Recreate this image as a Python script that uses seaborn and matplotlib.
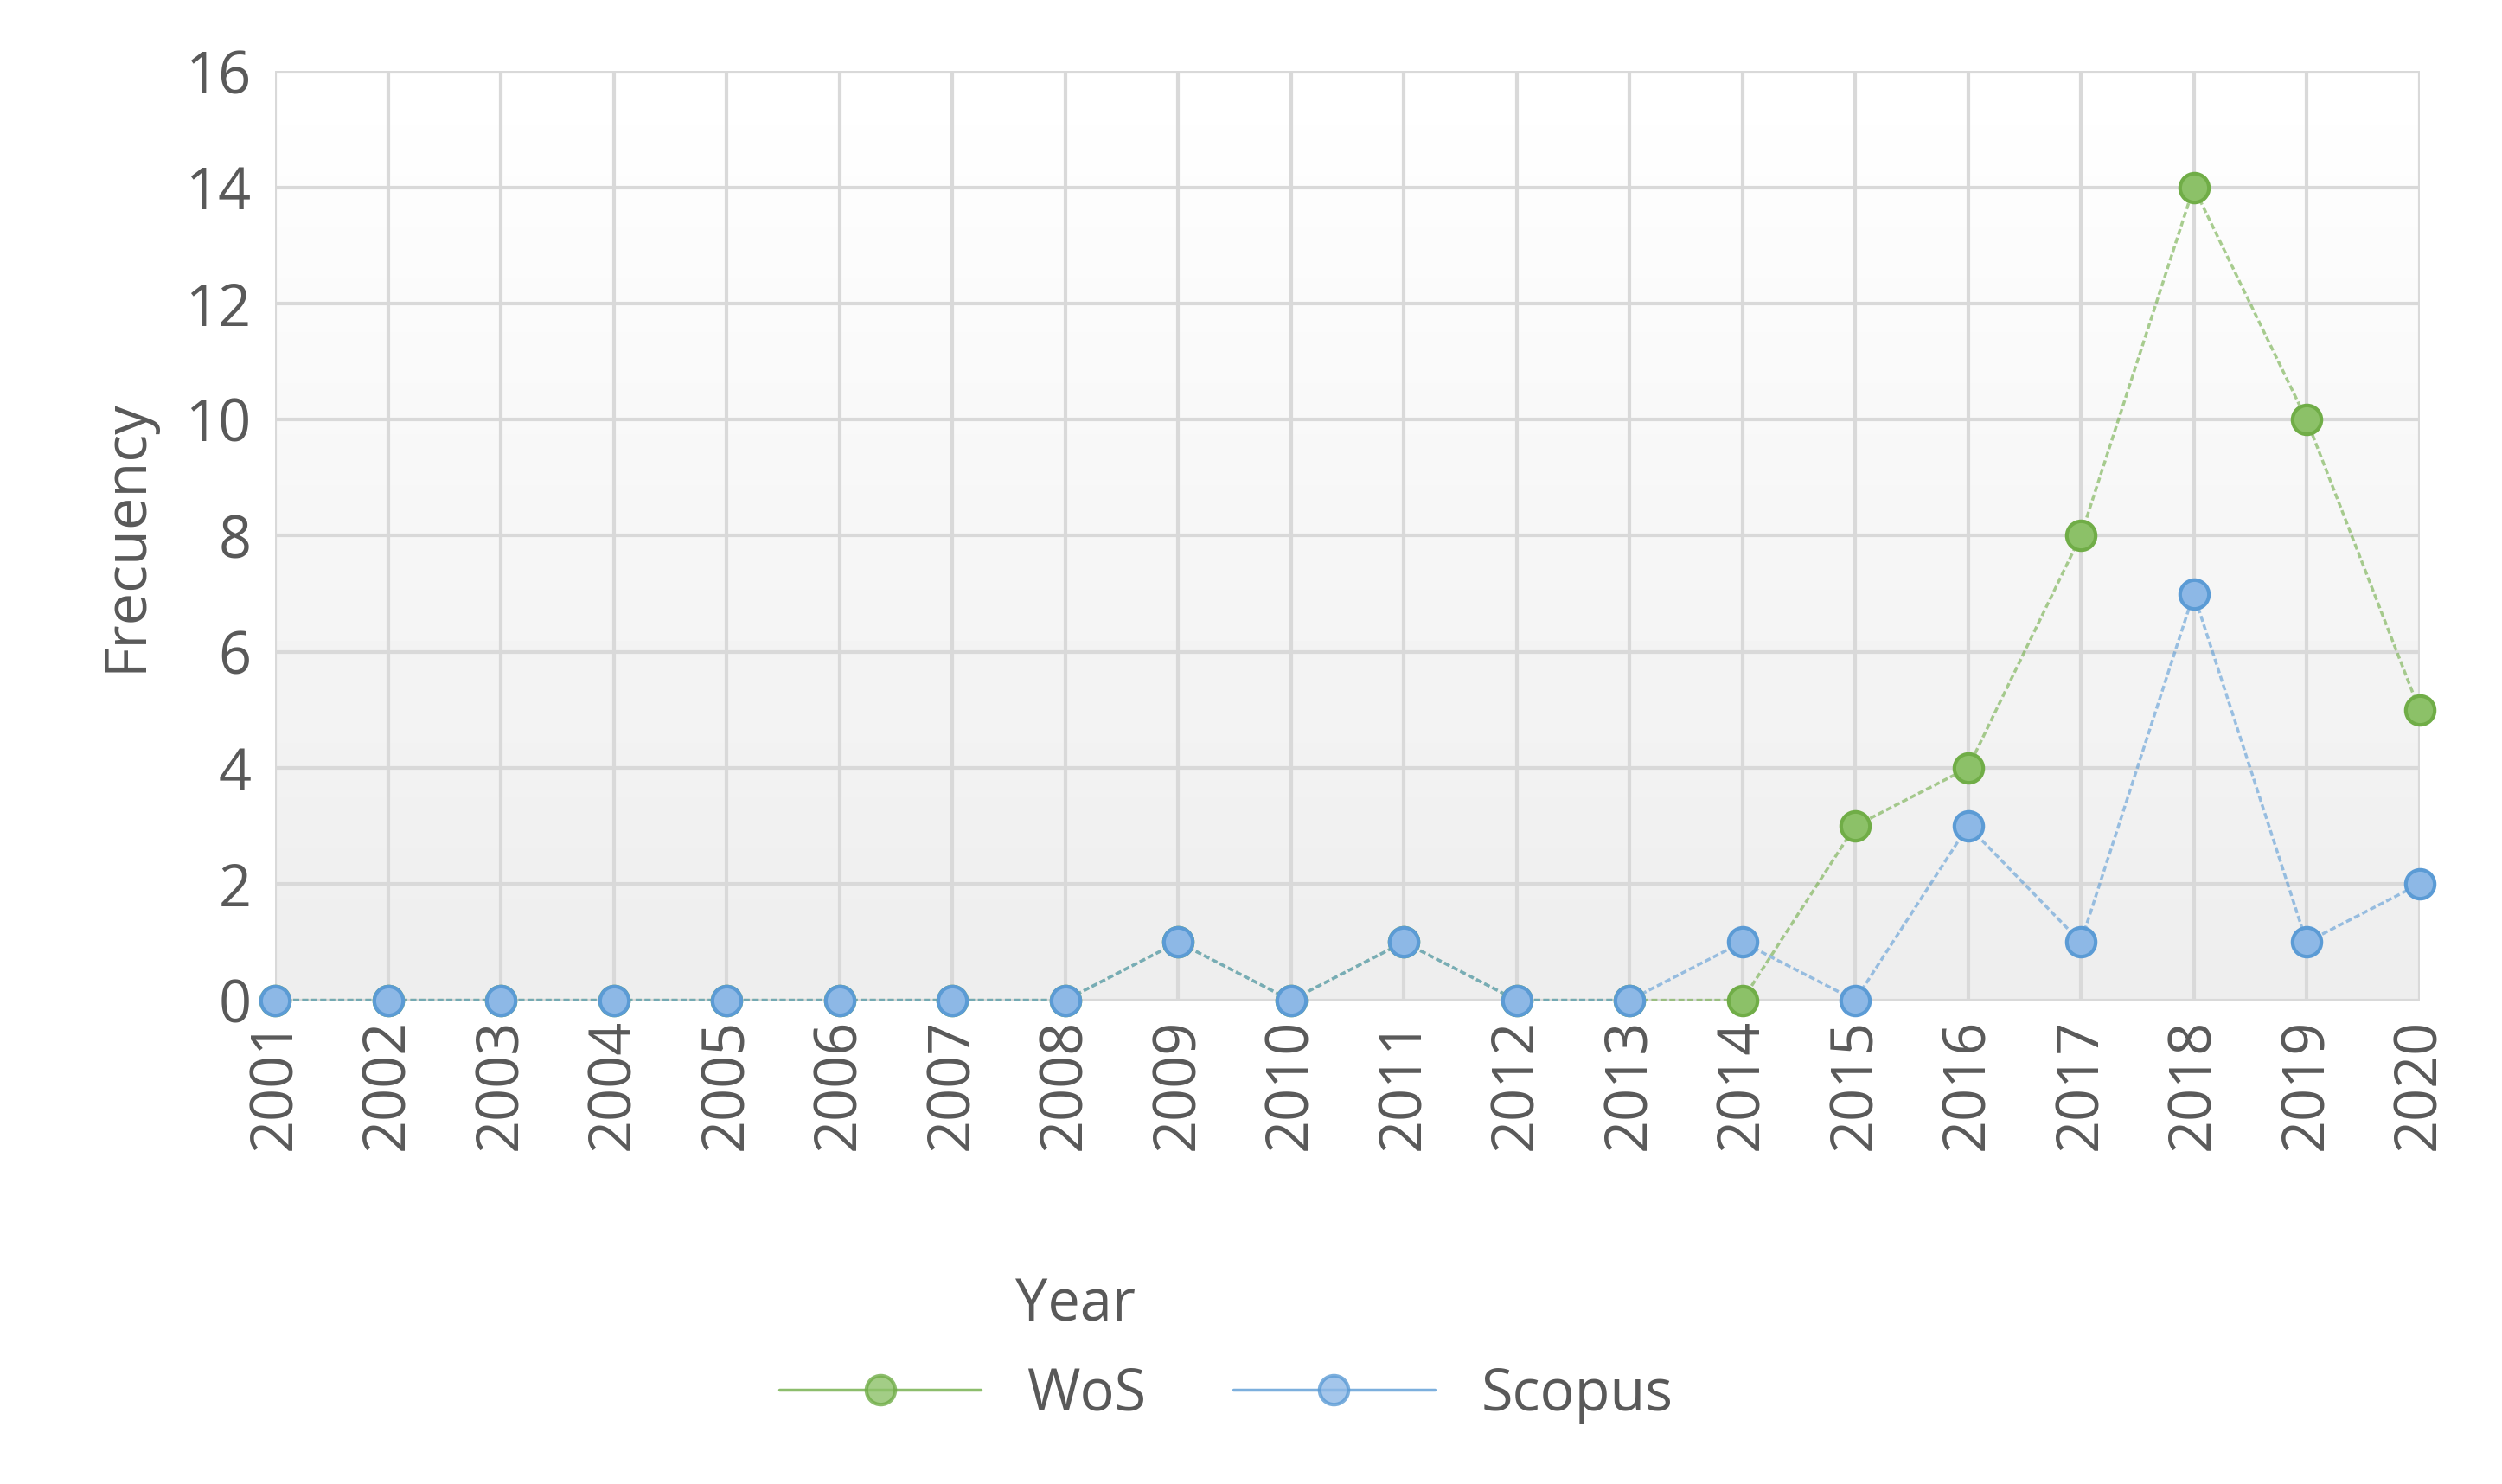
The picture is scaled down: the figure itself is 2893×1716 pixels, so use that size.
import numpy as np
import pandas as pd
import matplotlib
matplotlib.use("Agg")
import matplotlib.pyplot as plt
import seaborn as sns
from matplotlib.lines import Line2D

years = list(range(2001, 2021))
wos = [0,0,0,0,0,0,0,0,1,0,1,0,0,0,3,4,8,14,10,5]
scopus = [0,0,0,0,0,0,0,0,1,0,1,0,0,1,0,3,1,7,1,2]

df = pd.DataFrame({"Year": years * 2, "Frecuency": wos + scopus,
                   "Source": ["WoS"] * 20 + ["Scopus"] * 20})

sns.set_style("white")
plt.rcParams['font.family'] = ['Open Sans', 'DejaVu Sans']
fig = plt.figure(figsize=(28.93, 17.16), dpi=100)
ax = fig.add_axes([0.11, 0.326, 0.857, 0.626])

grad = np.linspace(0.93, 1.0, 256).reshape(-1, 1)
ax.imshow(grad, cmap="gray", vmin=0, vmax=1, aspect="auto",
          extent=[2001, 2020, 0, 16], origin="lower", zorder=0)

pal = {"WoS": "#70AD47", "Scopus": "#5B9BD5"}
fill = {"WoS": "#8CC168", "Scopus": "#8DB8E6"}
for src in ["WoS", "Scopus"]:
    sub = df[df.Source == src]
    sns.lineplot(data=sub, x="Year", y="Frecuency", ax=ax, color=pal[src],
                 alpha=0.6, linewidth=2.5, linestyle=(0, (2, 1)), zorder=3)
    ax.plot(sub.Year, sub.Frecuency, "o", ms=24, mfc=fill[src], mec=pal[src],
            mew=3, zorder=4, clip_on=False)

ax.set_xlim(2001, 2020)
ax.set_ylim(0, 16)
ax.set_xticks(years)
ax.set_xticklabels([str(y) for y in years], rotation=90, fontsize=48, color="#595959")
ax.set_yticks(range(0, 17, 2))
ax.tick_params(axis="y", labelsize=48, labelcolor="#595959", length=0, pad=20)
ax.tick_params(axis="x", length=0, pad=15)
ax.grid(True, color="#D9D9D9", linewidth=3)
for s in ax.spines.values():
    s.set_visible(False)
ax.set_xlabel("")
ax.set_ylabel("Frecuency", fontsize=48, color="#595959", labelpad=25)
fig.text(0.43, 0.12, "Year", fontsize=48, color="#595959", ha="center", va="center")

handles = [Line2D([], [], color=pal[s], marker="o", ms=24, mfc=fill[s], mec=pal[s],
                  mew=3, lw=2.5, alpha=0.8) for s in ["WoS", "Scopus"]]
fig.legend(handles, ["WoS", "Scopus"], loc="center", bbox_to_anchor=(0.49, 0.06), ncol=2,
           frameon=False, fontsize=48, handlelength=3.5, columnspacing=1.5,
           labelcolor="#595959")
fig.savefig("out.png", dpi=100, facecolor="white")
